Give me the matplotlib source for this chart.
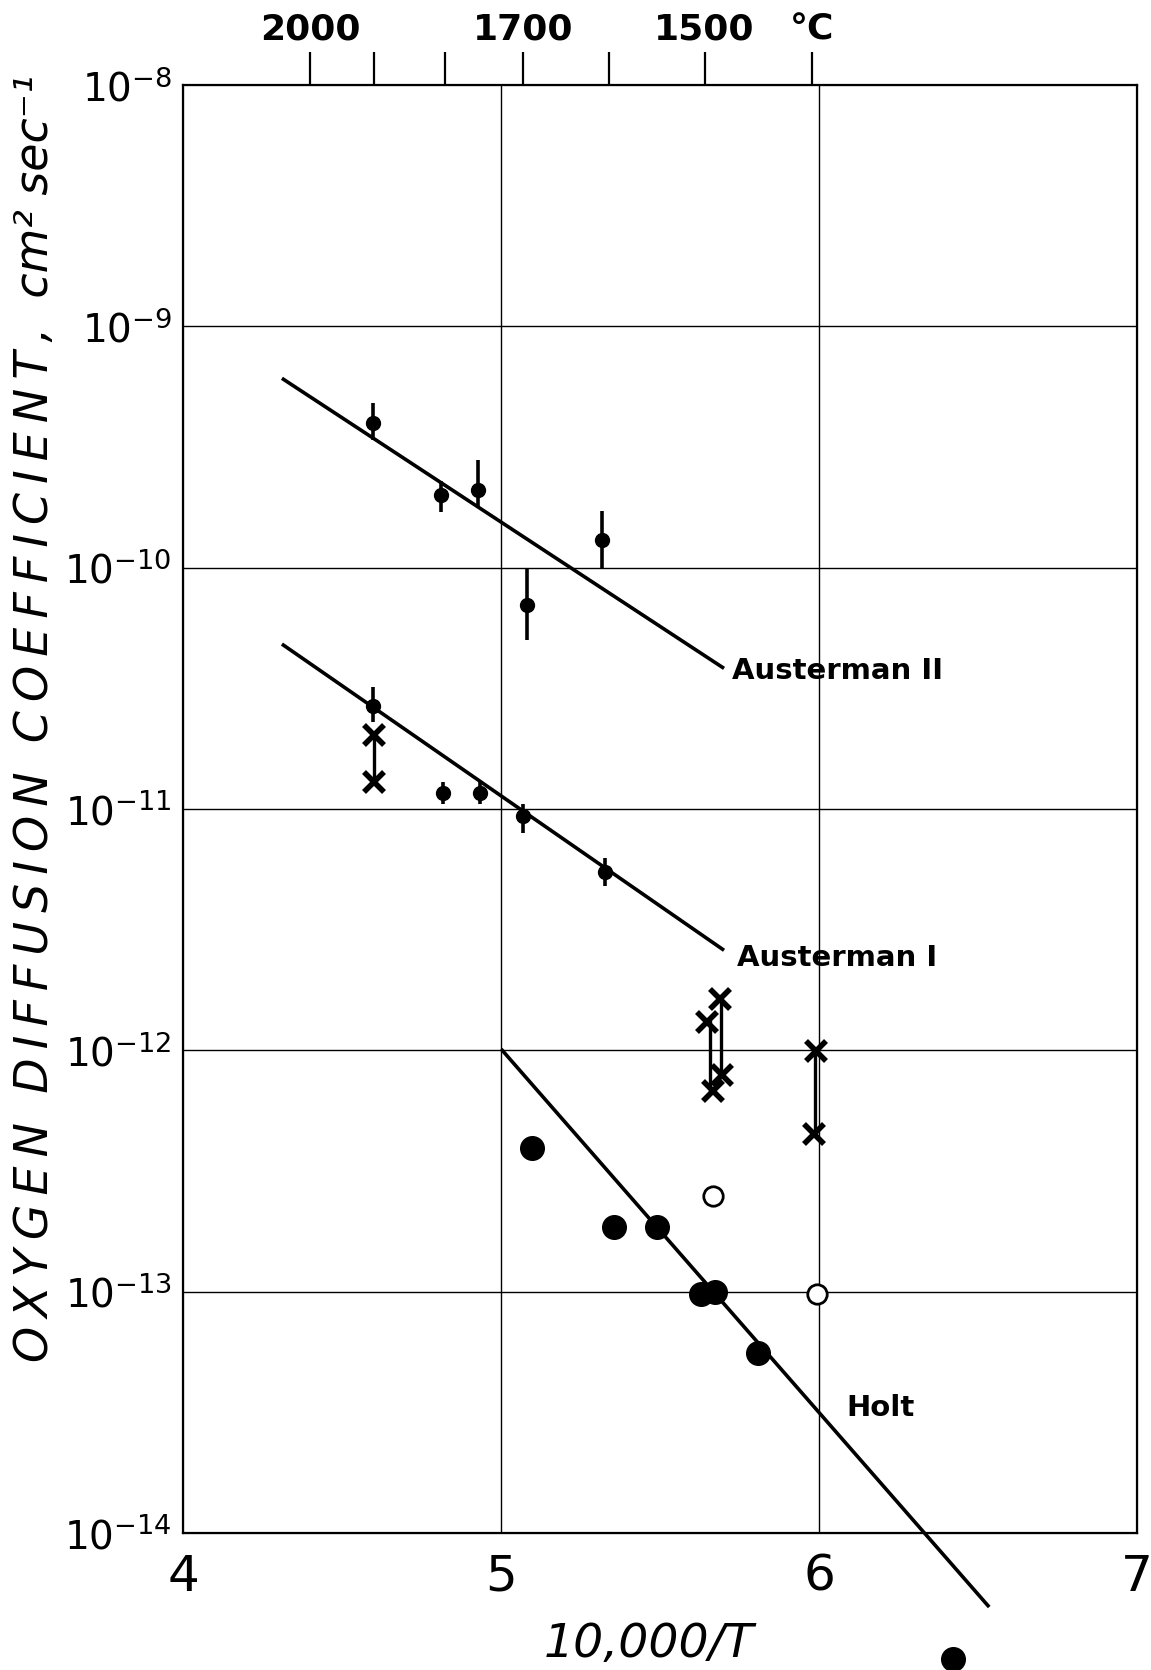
import numpy as np
import matplotlib
matplotlib.use('Agg')
import matplotlib.pyplot as plt

# Austerman II (filled circles with error bars)
a2_x = [4.596, 4.810, 4.927, 5.081, 5.316]
a2_y = [4.0e-10, 2.0e-10, 2.1e-10, 7.0e-11, 1.3e-10]
a2_lo = [3.4e-10, 1.7e-10, 1.77e-10, 5.0e-11, 1.0e-10]
a2_hi = [4.8e-10, 2.3e-10, 2.8e-10, 1.0e-10, 1.72e-10]
a2_line_x = [4.311, 5.701]
a2_line_y = [6.1e-10, 3.83e-11]

# Austerman I
a1_x = [4.596, 4.817, 4.934, 5.068, 5.326]
a1_y = [2.68e-11, 1.17e-11, 1.17e-11, 9.4e-12, 5.5e-12]
a1_lo = [2.3e-11, 1.05e-11, 1.05e-11, 8.0e-12, 4.8e-12]
a1_hi = [3.2e-11, 1.3e-11, 1.3e-11, 1.05e-11, 6.3e-12]
a1_line_x = [4.311, 5.701]
a1_line_y = [4.83e-11, 2.6e-12]

# crosses, joined in pairs
cross_x = [4.599, 4.599, 5.647, 5.667, 5.687, 5.694, 5.989, 5.985]
cross_y = [2.02e-11, 1.29e-11, 1.31e-12, 6.8e-13, 1.63e-12, 7.9e-13, 9.9e-13, 4.5e-13]
pairs = [(0, 1), (2, 3), (4, 5), (6, 7)]

# Holt
holt_x = [5.098, 5.356, 5.490, 5.630, 5.674, 5.808, 6.420]
holt_y = [3.96e-13, 1.85e-13, 1.85e-13, 9.8e-14, 1.0e-13, 5.6e-14, 3.0e-15]
holt_open_x = [5.667, 5.992]
holt_open_y = [2.5e-13, 9.8e-14]
holt_line_x = [5.004, 6.531]
holt_line_y = [1.0e-12, 5.0e-15]

decades = [-14, -13, -12, -11, -10, -9, -8]
x_ticks = [4, 5, 6, 7]
temps_c = [2000, 1900, 1800, 1700, 1600, 1500, 1400]
temp_labels = ['2000', '', '', '1700', '', '1500', '°C']

fig = plt.figure(figsize=(11.51, 16.70), dpi=100)
ax = fig.add_axes([0.159, 0.082, 0.829, 0.867])
ax.set_yscale('log')
ax.set_xlim(4, 7)
ax.set_ylim(1e-14, 1e-8)

# grid
for d in decades[1:-1]:
    ax.axhline(10.0 ** d, color='k', lw=1.0, zorder=1)
for xv in [5, 6]:
    ax.axvline(xv, color='k', lw=1.0, zorder=1)

# fitted lines
ax.plot(a2_line_x, a2_line_y, color='k', lw=2.6, solid_capstyle='butt')
ax.plot(a1_line_x, a1_line_y, color='k', lw=2.6, solid_capstyle='butt')
ax.plot(holt_line_x, holt_line_y, color='k', lw=2.6, clip_on=False)

# Austerman data
for xs, ys, lo, hi in [(a2_x, a2_y, a2_lo, a2_hi), (a1_x, a1_y, a1_lo, a1_hi)]:
    ys = np.array(ys)
    err = [ys - np.array(lo), np.array(hi) - ys]
    ax.errorbar(xs, ys, yerr=err, fmt='o', color='k', ms=10, elinewidth=2.6, capsize=0)

for i, j in pairs:
    ax.plot([(cross_x[i] + cross_x[j]) / 2] * 2, [cross_y[i], cross_y[j]], color='k', lw=2.4)
ax.plot(cross_x, cross_y, 'x', color='k', ms=14, mew=4, ls='none')

# Holt data
ax.plot(holt_x, holt_y, 'o', color='k', ms=17, ls='none', clip_on=False)
ax.plot(holt_open_x, holt_open_y, 'o', mfc='white', mec='k', mew=2, ms=14, ls='none')

ax.text(5.727, 3.75e-11, 'Austerman II', fontsize=21, fontweight='bold', va='center')
ax.text(5.741, 2.42e-12, 'Austerman I', fontsize=21, fontweight='bold', va='center')
ax.text(6.086, 3.29e-14, 'Holt', fontsize=21, fontweight='bold', va='center')

# axes ticks
ax.set_yticks([10.0 ** d for d in decades])
ax.set_yticklabels(['10$^{\\mathsf{-%d}}$' % -d for d in decades], fontsize=28)
ax.minorticks_off()
ax.set_xticks(x_ticks)
ax.set_xticklabels([str(v) for v in x_ticks], fontsize=36)
ax.tick_params(axis='both', length=0)
ax.tick_params(axis='x', pad=14)
ax.tick_params(axis='y', pad=8)
for s in ax.spines.values():
    s.set_linewidth(1.6)

# top temperature axis
top = ax.twiny()
top.set_xlim(ax.get_xlim())
top.set_xticks([10000.0 / (t + 273) for t in temps_c])
top.set_xticklabels(temp_labels, fontsize=26, fontweight='bold')
top.tick_params(axis='x', direction='out', length=24, width=1.6, pad=4)

# wide lettering like the original, thin spaces between capitals
ylab_words = ['OXYGEN', 'DIFFUSION', 'COEFFICIENT,', 'cm² sec⁻¹']
ylab = '  '.join('\u2009'.join(w) if i < 3 else w for i, w in enumerate(ylab_words))
fig.text(0.031, 0.57, ylab, rotation=90,
         fontsize=33, style='italic', ha='center', va='center')
fig.text(0.564, 0.002, '10,000/T', fontsize=34, style='italic', ha='center', va='bottom')

plt.savefig('out.png', dpi=100)
